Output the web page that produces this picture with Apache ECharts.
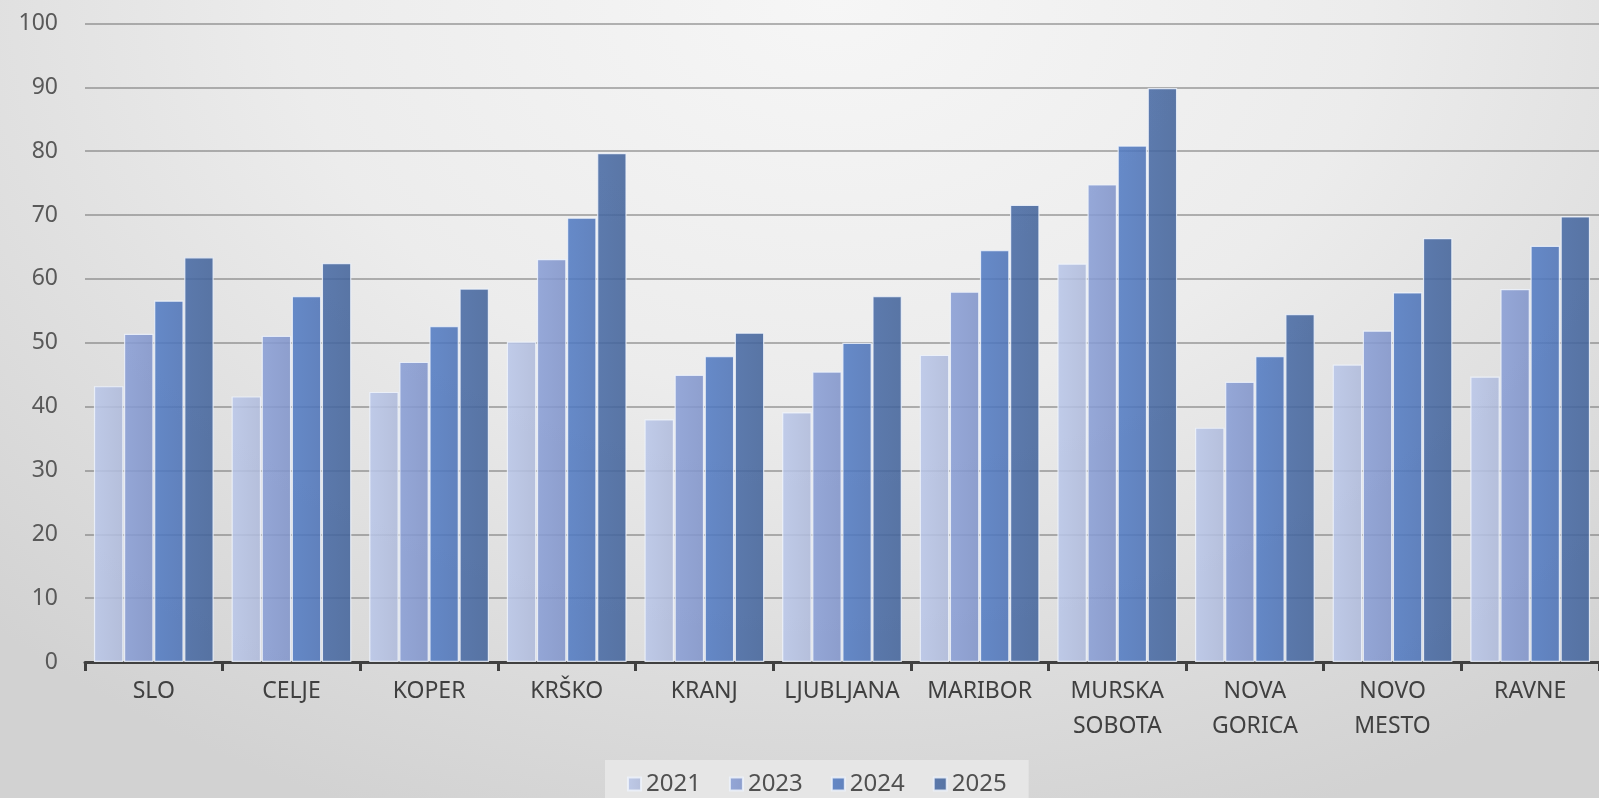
<!DOCTYPE html>
<html>
<head>
<meta charset="utf-8">
<script src="https://cdn.jsdelivr.net/npm/echarts@6/dist/echarts.min.js"></script>
<style>
  html, body { margin:0; padding:0; }
  body { width:1599px; height:798px; overflow:hidden;
    background: radial-gradient(ellipse 75% 110% at 52% 0%, #f6f6f6 0%, #ececec 45%, #d9d9d9 85%, #d2d2d2 100%); }
  #chart { width:1599px; height:798px; }
</style>
</head>
<body>
<div id="chart"></div>
<script>
const categories = ['SLO','CELJE','KOPER','KRŠKO','KRANJ','LJUBLJANA','MARIBOR','MURSKA\nSOBOTA','NOVA\nGORICA','NOVO\nMESTO','RAVNE'];
const seriesNames = ['2021','2023','2024','2025'];
const v2021 = [43.2, 41.6, 42.3, 50.2, 38.0, 39.1, 48.1, 62.4, 36.7, 46.6, 44.7];
const v2023 = [51.4, 51.1, 47.0, 63.1, 45.0, 45.5, 58.0, 74.8, 43.9, 51.9, 58.4];
const v2024 = [56.6, 57.3, 52.6, 69.6, 47.9, 50.0, 64.5, 80.9, 47.9, 57.9, 65.2];
const v2025 = [63.4, 62.5, 58.5, 79.7, 51.6, 57.3, 71.6, 89.9, 54.5, 66.4, 69.8];
const seriesValues = [v2021, v2023, v2024, v2025];
const colors = ['#b4c0e1', '#8599cf', '#5178bd', '#46679f'];
const yTicks = { min: 0, max: 100, interval: 10 };

function shade(hex, f) {
  const n = parseInt(hex.slice(1), 16);
  let r = (n >> 16) & 255, g = (n >> 8) & 255, b = n & 255;
  r = Math.round(Math.min(255, r * f)); g = Math.round(Math.min(255, g * f)); b = Math.round(Math.min(255, b * f));
  return 'rgb(' + r + ',' + g + ',' + b + ')';
}

const chart = echarts.init(document.getElementById('chart'), null, { renderer: 'canvas' });
const font = 'Noto Sans';
chart.setOption({
  backgroundColor: 'transparent',
  animation: false,
  color: colors,
  grid: { left: 85, right: 0, top: 23.5, bottom: 136, containLabel: false },
  legend: {
    data: seriesNames,
    left: 605,
    top: 760,
    padding: [12, 22, 12, 22],
    backgroundColor: '#e6e6e6',
    itemWidth: 13,
    itemHeight: 13,
    itemGap: 28,
    icon: 'rect',
    textStyle: { fontFamily: font, fontSize: 24, color: '#505050' }
  },
  xAxis: {
    type: 'category',
    data: categories,
    axisLine: { show: true, lineStyle: { color: '#404040', width: 3 } },
    axisTick: { show: true, length: 9, lineStyle: { color: '#404040', width: 3 } },
    axisLabel: { fontFamily: font, fontSize: 23, color: '#404040', margin: 12, lineHeight: 35, interval: 0 },
    splitLine: { show: false }
  },
  yAxis: {
    type: 'value',
    min: yTicks.min, max: yTicks.max, interval: yTicks.interval,
    axisLine: { show: false },
    axisTick: { show: false },
    axisLabel: { fontFamily: font, fontSize: 23, color: '#595959', margin: 27 },
    splitLine: { show: true, lineStyle: { color: 'rgba(110,110,110,0.5)', width: 2 } }
  },
  series: seriesNames.map((name, i) => ({
    name: name,
    type: 'bar',
    data: seriesValues[i],
    barWidth: 29.5,
    barGap: '2%',
    itemStyle: {
      color: {
        type: 'linear', x: 0, y: 0, x2: 1, y2: 0,
        colorStops: [
          { offset: 0, color: shade(colors[i], 1.03) },
          { offset: 1, color: shade(colors[i], 0.97) }
        ]
      },
      opacity: 0.88,
      borderColor: 'rgba(238,243,252,0.95)',
      borderWidth: 1.2
    }
  }))
});
</script>
</body>
</html>
